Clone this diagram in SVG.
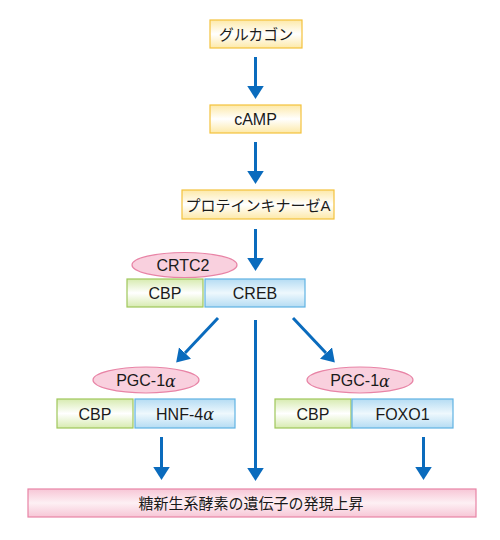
<svg xmlns="http://www.w3.org/2000/svg" width="500" height="540" viewBox="0 0 500 540">
<defs>
<linearGradient id="gy" x1="0" y1="0" x2="0" y2="1"><stop offset="0" stop-color="#fde9a8"/><stop offset="0.5" stop-color="#ffffff"/><stop offset="1" stop-color="#fde9a8"/></linearGradient>
<linearGradient id="gg" x1="0" y1="0" x2="0" y2="1"><stop offset="0" stop-color="#d7ebb0"/><stop offset="0.5" stop-color="#ffffff"/><stop offset="1" stop-color="#d7ebb0"/></linearGradient>
<linearGradient id="gb" x1="0" y1="0" x2="0" y2="1"><stop offset="0" stop-color="#b5dcf3"/><stop offset="0.5" stop-color="#eef8fd"/><stop offset="1" stop-color="#b5dcf3"/></linearGradient>
<linearGradient id="gp" x1="0" y1="0" x2="0" y2="1"><stop offset="0" stop-color="#f7c6d6"/><stop offset="0.5" stop-color="#fdf0f4"/><stop offset="1" stop-color="#f7c6d6"/></linearGradient>
<marker id="ah" markerWidth="6" markerHeight="6" refX="0" refY="2.75" orient="auto" markerUnits="strokeWidth"><path d="M0,0 L4.3,2.75 L0,5.5 Z" fill="#0a6bbd"/></marker>
</defs>
<style>
.y{fill:url(#gy);stroke:#f3c23c;stroke-width:1.2}
.g{fill:url(#gg);stroke:#9fc75a;stroke-width:1.2}
.b{fill:url(#gb);stroke:#5fb2e3;stroke-width:1.2}
.p{fill:#f9d0de;stroke:#e884a6;stroke-width:1.2}
.pb{fill:url(#gp);stroke:#e884a6;stroke-width:1.2}
text{font-family:"Liberation Sans","Noto Sans CJK JP",sans-serif;font-size:16px;fill:#1a1a1a;text-anchor:middle;dominant-baseline:central}
.j{font-size:15px}
.a{font-family:"DejaVu Serif",serif;font-style:italic}
.c{stroke:#0a6bbd;stroke-width:3;fill:none;marker-end:url(#ah)}
</style>
<g id="glucagon"><rect class="y" x="210" y="20" width="92" height="28"/><text class="j" x="256" y="34.5">グルカゴン</text></g>
<g id="camp"><rect class="y" x="210" y="105" width="91" height="28"/><text x="255.5" y="119.5">cAMP</text></g>
<g id="pka"><rect class="y" x="182" y="190" width="152" height="29"/><text class="j" x="258" y="205">プロテインキナーゼA</text></g>
<g id="crtc2"><ellipse class="p" cx="184.5" cy="265" rx="52.5" ry="12.5"/><text x="183" y="265.5">CRTC2</text></g>
<g id="cbp1"><rect class="g" x="127" y="279" width="76" height="28"/><text x="165" y="293.5">CBP</text></g>
<g id="creb"><rect class="b" x="205" y="279" width="100" height="28"/><text x="255" y="293.5">CREB</text></g>
<g id="pgc1"><ellipse class="p" cx="146" cy="380" rx="53" ry="13"/><text x="146" y="380.5">PGC-1<tspan class="a">α</tspan></text></g>
<g id="cbp2"><rect class="g" x="57" y="399" width="76" height="29"/><text x="95" y="414">CBP</text></g>
<g id="hnf"><rect class="b" x="135" y="399" width="100" height="29"/><text x="185" y="414">HNF-4<tspan class="a">α</tspan></text></g>
<g id="pgc2"><ellipse class="p" cx="360" cy="380" rx="53" ry="13"/><text x="360" y="380.5">PGC-1<tspan class="a">α</tspan></text></g>
<g id="cbp3"><rect class="g" x="275" y="399" width="76" height="29"/><text x="313" y="414">CBP</text></g>
<g id="foxo1"><rect class="b" x="352" y="399" width="101" height="29"/><text x="402.5" y="414">FOXO1</text></g>
<g id="result"><rect class="pb" x="28" y="489" width="448" height="28"/><text class="j" x="251" y="503.5">糖新生系酵素の遺伝子の発現上昇</text></g>
<g id="connectors">
<line class="c" x1="255.5" y1="57" x2="255.5" y2="86"/>
<line class="c" x1="255.5" y1="142" x2="255.5" y2="171"/>
<line class="c" x1="255.5" y1="229" x2="255.5" y2="258"/>
<line class="c" x1="218" y1="318" x2="185" y2="353"/>
<line class="c" x1="293" y1="318" x2="326" y2="353"/>
<line class="c" x1="255.5" y1="320" x2="255.5" y2="468"/>
<line class="c" x1="161.5" y1="437" x2="161.5" y2="467"/>
<line class="c" x1="423.5" y1="437" x2="423.5" y2="467"/>
</g>
</svg>
